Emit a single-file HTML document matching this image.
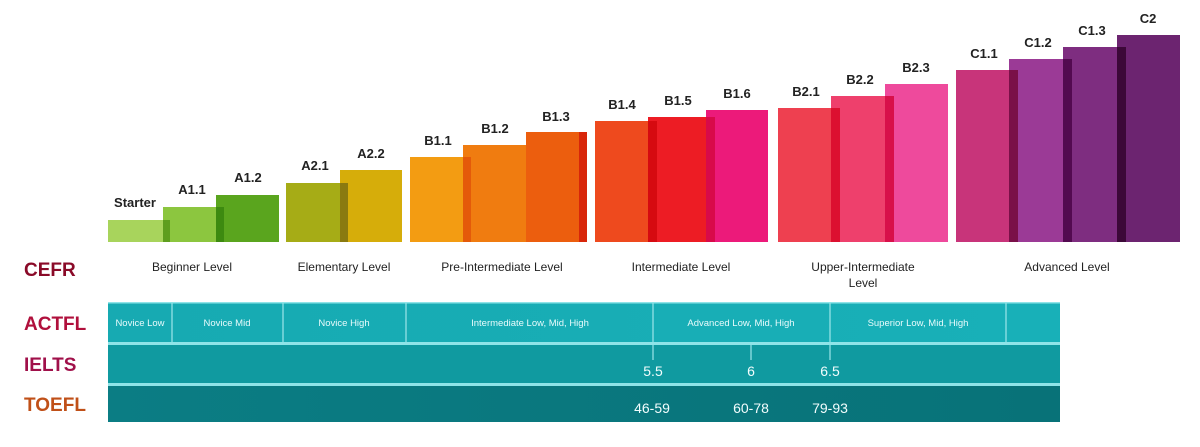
<!DOCTYPE html>
<html><head><style>
body{margin:0;background:#fff;}
svg text{font-family:"Liberation Sans",sans-serif;}
</style></head><body>
<svg width="1200" height="442" viewBox="0 0 1200 442" xmlns="http://www.w3.org/2000/svg">
<defs>
<linearGradient id="g1" x1="0" y1="0" x2="1" y2="0"><stop offset="0" stop-color="#17aab2"/><stop offset="1" stop-color="#18b0b8"/></linearGradient>
<linearGradient id="g3" x1="0" y1="0" x2="1" y2="0"><stop offset="0" stop-color="#0b7d84"/><stop offset="1" stop-color="#087278"/></linearGradient>
</defs>
<!-- bars -->
<g>
<rect x="108" y="220" width="56" height="22" fill="#a8d45c"/>
<rect x="163" y="207" width="58" height="35" fill="#8cc63f"/><rect x="163" y="220" width="7" height="22" fill="#5e9e1e"/>
<rect x="216" y="195" width="63" height="47" fill="#5aa51e"/><rect x="216" y="207" width="8" height="35" fill="#3d8a10"/>
<rect x="286" y="183" width="58" height="59" fill="#a6ac16"/>
<rect x="340" y="170" width="62" height="72" fill="#d6ad0a"/><rect x="340" y="183" width="8" height="59" fill="#8a7a10"/>
<rect x="410" y="157" width="56" height="85" fill="#f39c12"/>
<rect x="463" y="145" width="66" height="97" fill="#f07c10"/><rect x="463" y="157" width="8" height="85" fill="#e45a0a"/>
<rect x="526" y="132" width="61" height="110" fill="#ec5e0e"/><rect x="579" y="132" width="8" height="110" fill="#d8260a"/>
<rect x="595" y="121" width="56" height="121" fill="#ee4a1e"/>
<rect x="648" y="117" width="61" height="125" fill="#ed1c24"/><rect x="648" y="121" width="9" height="121" fill="#d60a10"/>
<rect x="706" y="110" width="62" height="132" fill="#ec1a7a"/><rect x="706" y="117" width="9" height="125" fill="#d80a4a"/>
<rect x="778" y="108" width="56" height="134" fill="#ee4050"/>
<rect x="831" y="96" width="57" height="146" fill="#ee406c"/><rect x="831" y="108" width="9" height="134" fill="#dc1030"/>
<rect x="885" y="84" width="63" height="158" fill="#ee4a9c"/><rect x="885" y="96" width="9" height="146" fill="#d8104a"/>
<rect x="956" y="70" width="56" height="172" fill="#c8347a"/>
<rect x="1009" y="59" width="58" height="183" fill="#9b3a96"/><rect x="1009" y="70" width="9" height="172" fill="#7a1048"/>
<rect x="1063" y="47" width="58" height="195" fill="#7e2d80"/><rect x="1063" y="59" width="9" height="183" fill="#520a50"/>
<rect x="1117" y="35" width="63" height="207" fill="#6c2470"/><rect x="1117" y="47" width="9" height="195" fill="#3c0838"/>
</g>
<g font-size="13" font-weight="bold" fill="#222" text-anchor="middle">
<text x="135" y="207">Starter</text>
<text x="192" y="194">A1.1</text>
<text x="248" y="182">A1.2</text>
<text x="315" y="170">A2.1</text>
<text x="371" y="158">A2.2</text>
<text x="438" y="145">B1.1</text>
<text x="495" y="133">B1.2</text>
<text x="556" y="121">B1.3</text>
<text x="622" y="109">B1.4</text>
<text x="678" y="105">B1.5</text>
<text x="737" y="98">B1.6</text>
<text x="806" y="96">B2.1</text>
<text x="860" y="84">B2.2</text>
<text x="916" y="72">B2.3</text>
<text x="984" y="58">C1.1</text>
<text x="1038" y="47">C1.2</text>
<text x="1092" y="35">C1.3</text>
<text x="1148" y="23">C2</text>
</g>
<g font-size="12" fill="#222" text-anchor="middle">
<text x="192" y="271">Beginner Level</text>
<text x="344" y="271">Elementary Level</text>
<text x="502" y="271">Pre-Intermediate Level</text>
<text x="681" y="271">Intermediate Level</text>
<text x="863" y="271">Upper-Intermediate</text>
<text x="863" y="287">Level</text>
<text x="1067" y="271">Advanced Level</text>
</g>
<g font-size="19" font-weight="bold">
<text x="24" y="276" fill="#8a0a28">CEFR</text>
<text x="24" y="330" fill="#b0103c">ACTFL</text>
<text x="24" y="371" fill="#a0104a">IELTS</text>
<text x="24" y="411" fill="#c05018">TOEFL</text>
</g>
<!-- table -->
<rect x="108" y="303" width="952" height="39" fill="url(#g1)"/>
<rect x="108" y="342" width="952" height="3" fill="#8fe4e8"/>
<rect x="108" y="345" width="952" height="38" fill="#109aa0"/>
<rect x="108" y="383" width="952" height="3" fill="#8fe4e8"/>
<rect x="108" y="386" width="952" height="36" fill="url(#g3)"/>
<rect x="108" y="302" width="952" height="1.5" fill="#8fe4e8"/>
<g stroke="#9ee6ea" stroke-width="1.2">
<line x1="172" y1="303" x2="172" y2="342"/>
<line x1="283" y1="303" x2="283" y2="342"/>
<line x1="406" y1="303" x2="406" y2="342"/>
<line x1="653" y1="303" x2="653" y2="342"/>
<line x1="830" y1="303" x2="830" y2="342"/>
<line x1="1006" y1="303" x2="1006" y2="342"/>
<line x1="653" y1="345" x2="653" y2="360"/>
<line x1="751" y1="345" x2="751" y2="360"/>
<line x1="830" y1="345" x2="830" y2="360"/>
</g>
<g font-size="9.5" fill="#e8fbfc" text-anchor="middle">
<text x="140" y="326">Novice Low</text>
<text x="227" y="326">Novice Mid</text>
<text x="344" y="326">Novice High</text>
<text x="530" y="326">Intermediate Low, Mid, High</text>
<text x="741" y="326">Advanced Low, Mid, High</text>
<text x="918" y="326">Superior Low, Mid, High</text>
</g>
<g font-size="14" fill="#f2fdfd" text-anchor="middle">
<text x="653" y="376">5.5</text>
<text x="751" y="376">6</text>
<text x="830" y="376">6.5</text>
<text x="652" y="413">46-59</text>
<text x="751" y="413">60-78</text>
<text x="830" y="413">79-93</text>
</g>
</svg>
</body></html>
